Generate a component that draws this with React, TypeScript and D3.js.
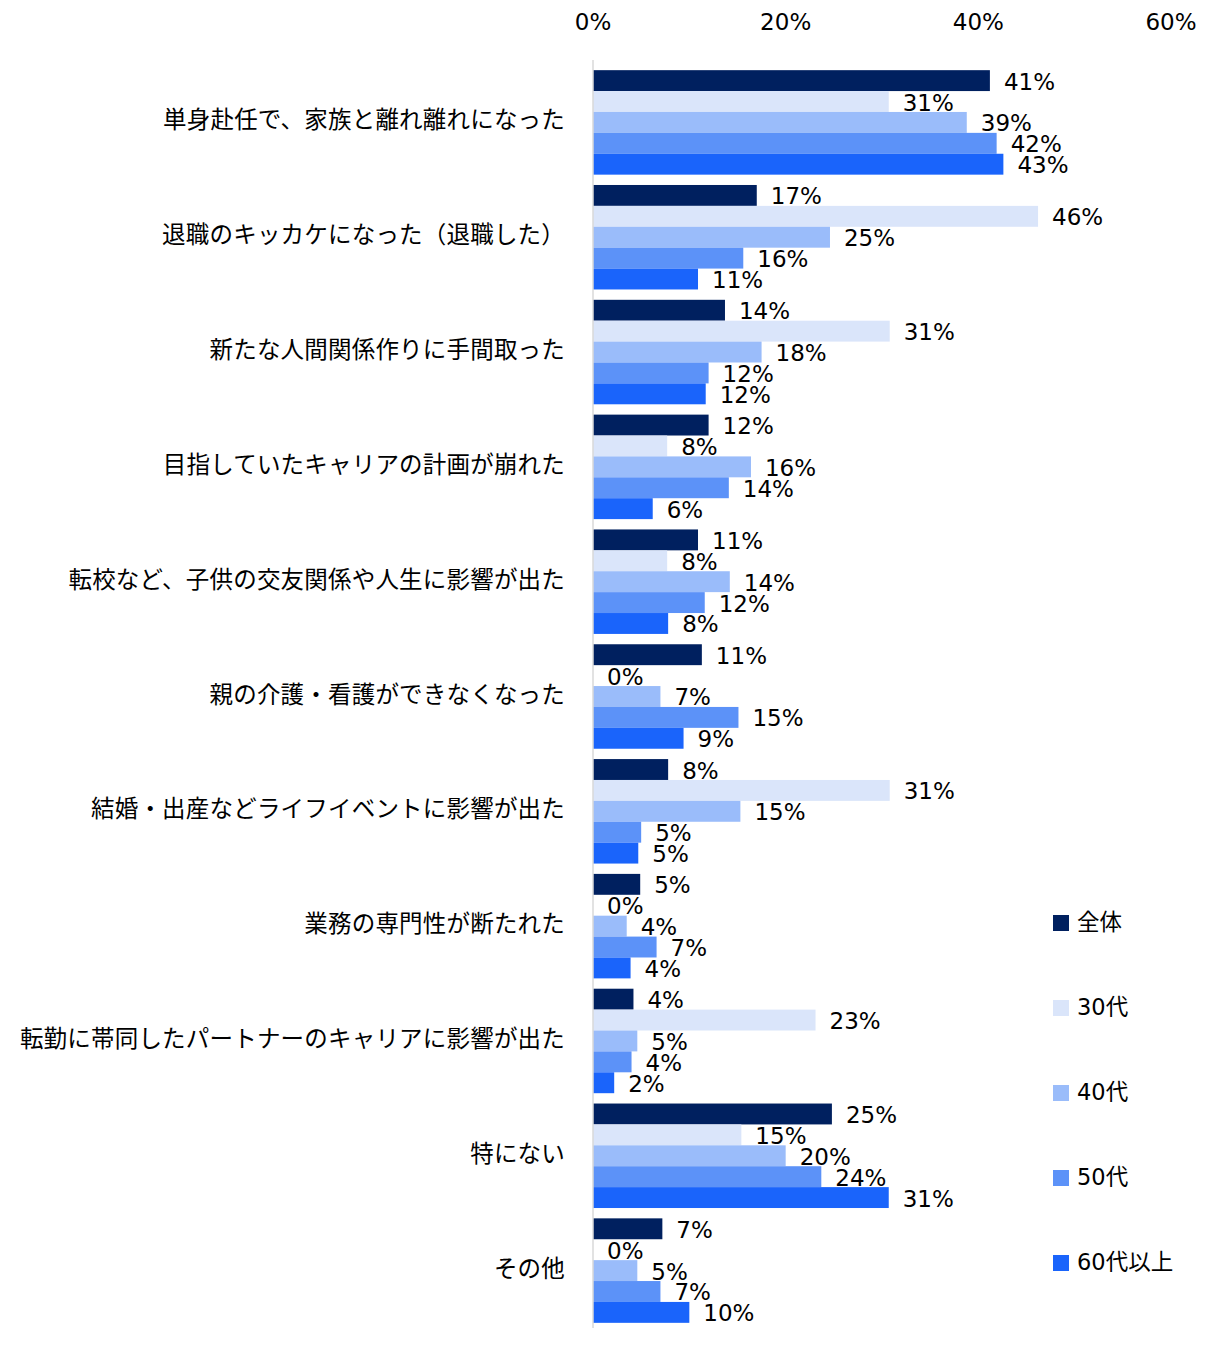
import * as d3 from 'd3';

const categories = [
    '単身赴任で、家族と離れ離れになった',
    '退職のキッカケになった（退職した）',
    '新たな人間関係作りに手間取った',
    '目指していたキャリアの計画が崩れた',
    '転校など、子供の交友関係や人生に影響が出た',
    '親の介護・看護ができなくなった',
    '結婚・出産などライフイベントに影響が出た',
    '業務の専門性が断たれた',
    '転勤に帯同したパートナーのキャリアに影響が出た',
    '特にない',
    'その他',
];

const seriesNames = ['全体', '30代', '40代', '50代', '60代以上'];
const seriesColors = ['#00205f', '#dae5fa', '#9abcfa', '#5c92f8', '#1a64fb'];

// bar lengths; labels show the rounded value
const allValues = [41.2, 17.0, 13.7, 12.0, 10.9, 11.3, 7.8, 4.9, 4.2, 24.8, 7.2];
const age30Values = [30.7, 46.2, 30.8, 7.7, 7.7, 0, 30.8, 0, 23.1, 15.4, 0];
const age40Values = [38.8, 24.6, 17.5, 16.4, 14.2, 7.0, 15.3, 3.5, 4.6, 20.0, 4.6];
const age50Values = [41.9, 15.6, 12.0, 14.1, 11.6, 15.1, 5.0, 6.6, 4.0, 23.7, 7.0];
const age60Values = [42.6, 10.9, 11.7, 6.2, 7.8, 9.4, 4.7, 3.9, 2.2, 30.7, 10.0];

const seriesValues = [allValues, age30Values, age40Values, age50Values, age60Values];

const xTicks = [0, 20, 40, 60];

const W = 1214;
const H = 1350;
const X0 = 593;
const X1 = 1171;
const TOP = 65;
const BOTTOM = 1328;

const LATIN = '"DejaVu Sans", "Noto Sans CJK JP", sans-serif';
const CJK = '"Noto Sans CJK JP", "DejaVu Sans", sans-serif';

export default function App() {
    const x = d3.scaleLinear().domain([0, 60]).range([X0, X1]);
    const y = d3.scaleBand<string>()
        .domain(categories)
        .range([TOP, BOTTOM])
        .paddingInner(0.09)
        .paddingOuter(0.045);
    const ySub = d3.scaleBand<string>()
        .domain(seriesNames)
        .range([0, y.bandwidth()])
        .padding(0);
    const legendY = d3.scalePoint<string>()
        .domain(seriesNames)
        .range([922, 1262]);

    return (
        <svg width={W} height={H} style={{ position: 'absolute', left: 0, top: 0, background: '#fff' }}>
            {/* top axis labels */}
            {xTicks.map(t => (
                <text key={t} x={x(t)} y={22} textAnchor="middle" dominantBaseline="central"
                    fontFamily={LATIN} fontSize={23} fill="#000">{t}%</text>
            ))}

            {/* bars */}
            {categories.map((cat, ci) => (
                <g key={cat} transform={`translate(0,${y(cat)})`}>
                    {seriesNames.map((s, si) => {
                        const v = seriesValues[si][ci];
                        const by = ySub(s) ?? 0;
                        const bh = ySub.bandwidth();
                        return (
                            <rect key={s} x={x(0)} y={by} width={x(v) - x(0)} height={bh} fill={seriesColors[si]} />
                        );
                    })}
                </g>
            ))}

            {/* value labels */}
            {categories.map((cat, ci) => (
                <g key={cat} transform={`translate(0,${y(cat)})`}>
                    {seriesNames.map((s, si) => {
                        const v = seriesValues[si][ci];
                        const by = ySub(s) ?? 0;
                        const bh = ySub.bandwidth();
                        return (
                            <text key={s} x={x(v) + 14} y={by + bh / 2 + 1} dominantBaseline="central"
                                fontFamily={LATIN} fontSize={23} fill="#000">{Math.round(v)}%</text>
                        );
                    })}
                </g>
            ))}

            {/* category labels */}
            {categories.map(cat => (
                <text key={cat} x={565} y={(y(cat) ?? 0) + y.bandwidth() / 2 - 4}
                    textAnchor="end" dominantBaseline="central"
                    fontFamily={CJK} fontSize={23.5} letterSpacing={0.2} fill="#000">{cat}</text>
            ))}

            {/* axis line */}
            <line x1={X0} x2={X0} y1={TOP - 5} y2={BOTTOM} stroke="#d9d9d9" strokeWidth={1.5} />

            {/* legend */}
            {seriesNames.map((s, si) => (
                <g key={s} transform={`translate(1053,${legendY(s)})`}>
                    <rect x={0} y={-7} width={16} height={16} fill={seriesColors[si]} />
                    <text x={24} y={0} dominantBaseline="central" fontFamily={LATIN}
                        fontSize={22.5} fill="#000">{s}</text>
                </g>
            ))}
        </svg>
    );
}
